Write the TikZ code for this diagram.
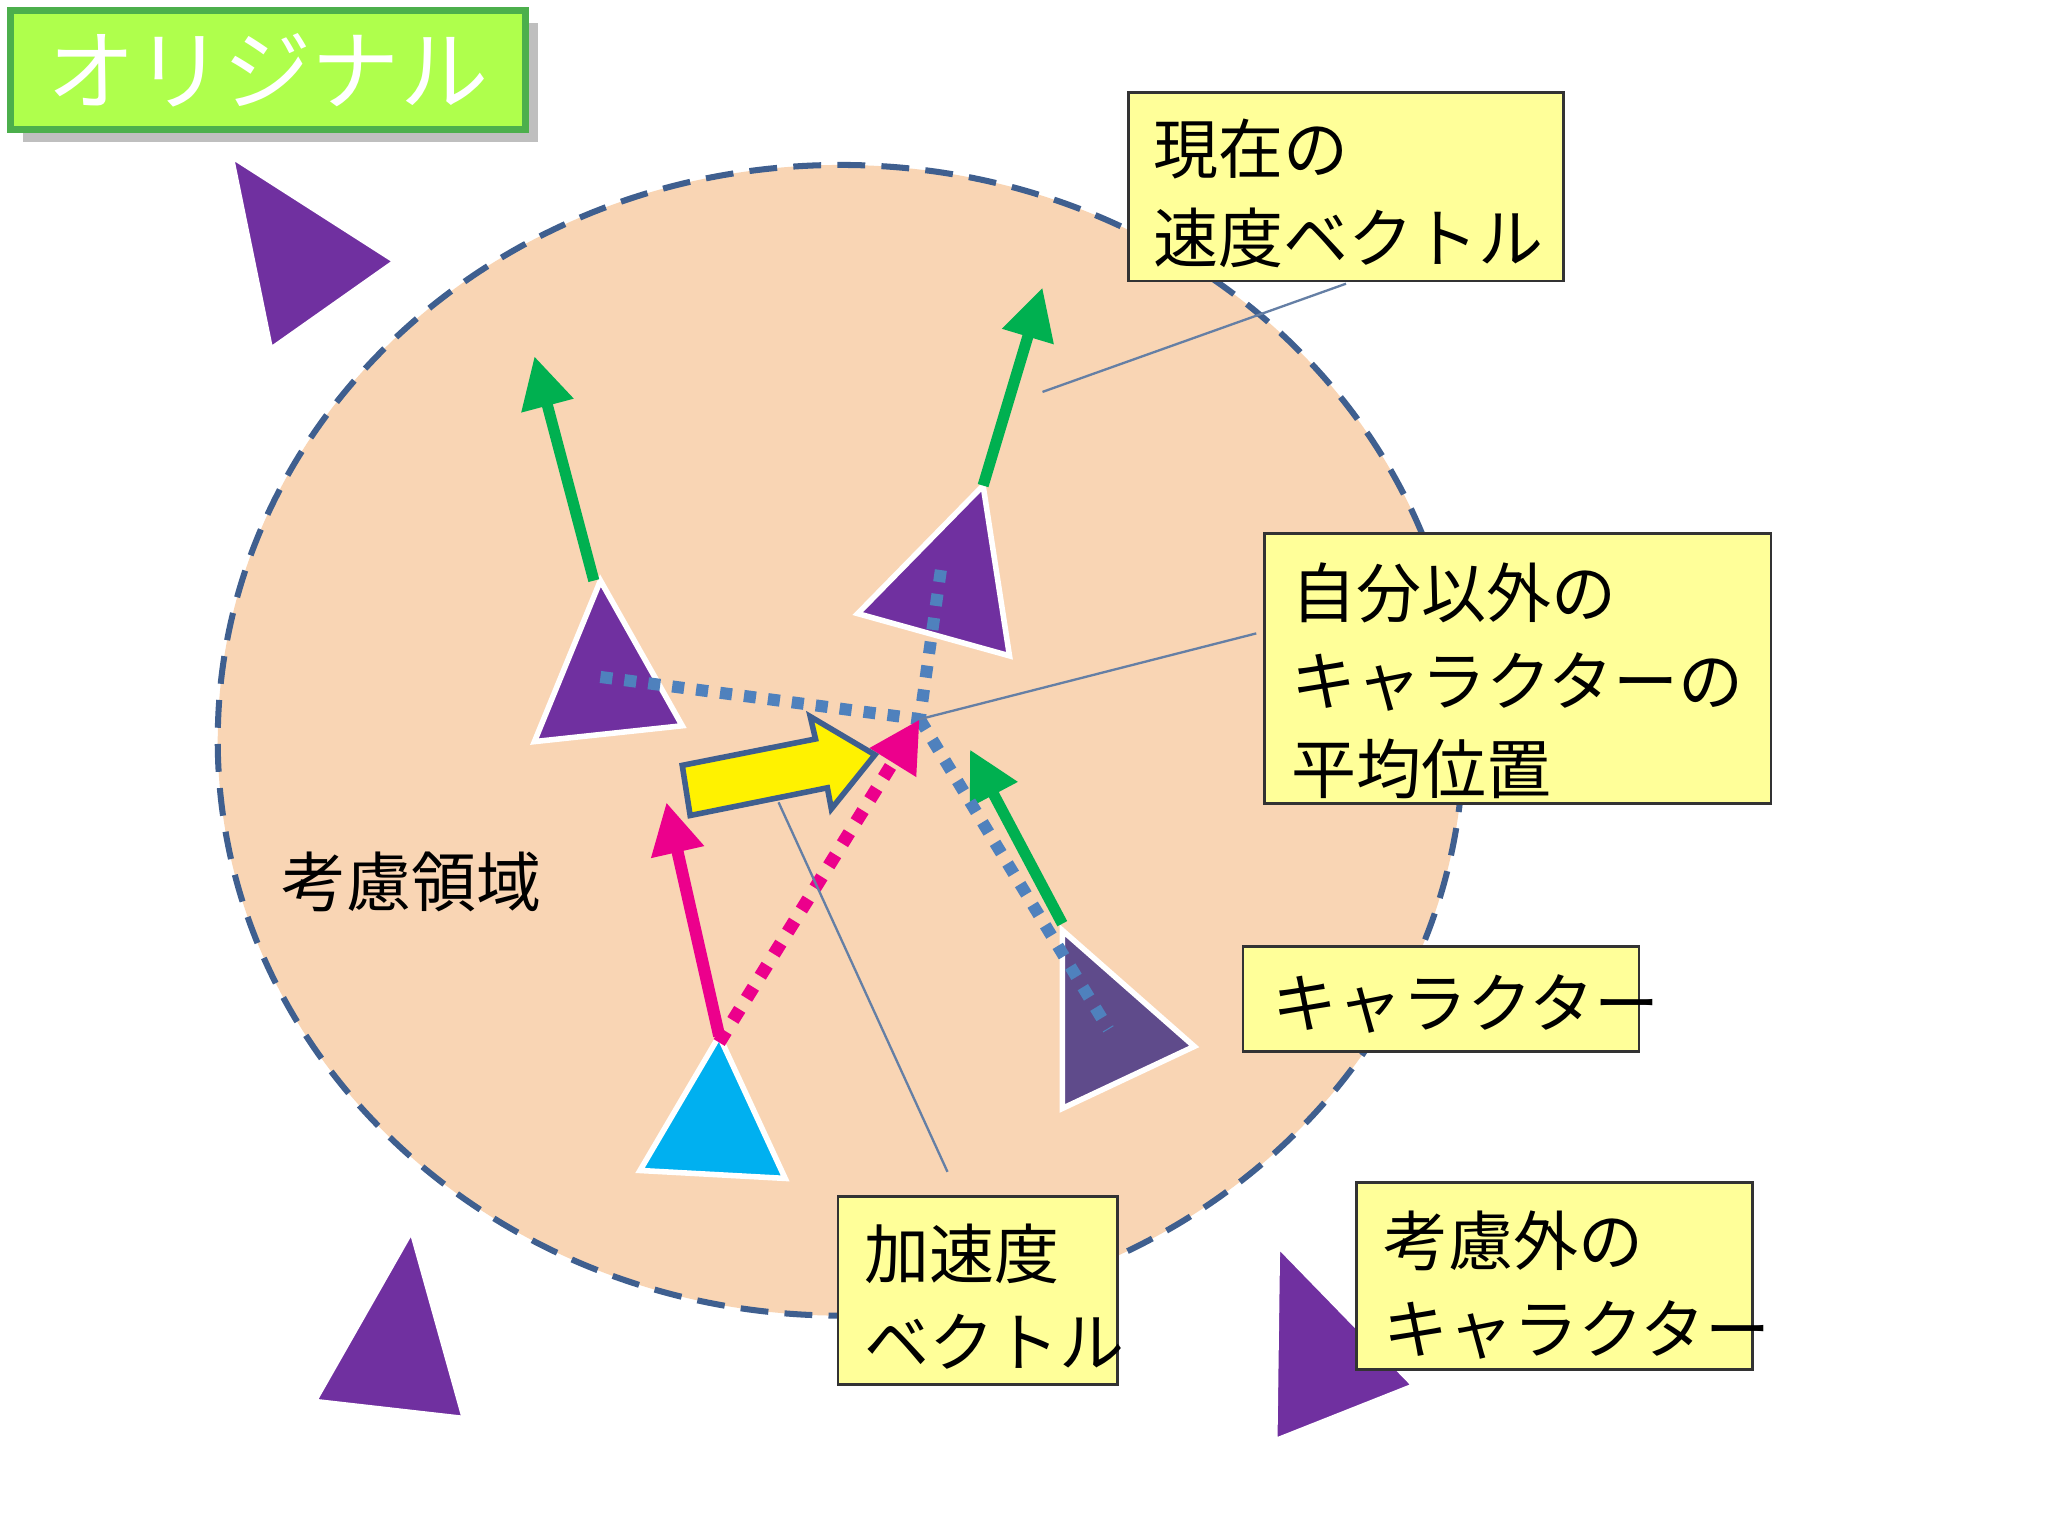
\documentclass[tikz,border=0pt]{standalone}
\usepackage{fontspec}
\setmainfont{Noto Sans CJK JP}
\usetikzlibrary{arrows.meta,shadows}
\definecolor{peach}{HTML}{F9D5B4}
\definecolor{purp}{HTML}{7030A0}
\definecolor{dpurp}{HTML}{5F4B8B}
\definecolor{cyanc}{HTML}{00B0F0}
\definecolor{grn}{HTML}{00B050}
\definecolor{bl}{HTML}{4F81BD}
\definecolor{edge}{HTML}{3F5F8F}
\definecolor{note}{HTML}{FFFF99}
\tikzset{
 tri/.style={fill=purp,draw=white,line width=1.2pt},
 garrow/.style={grn,line width=2.4pt,-{Triangle[length=11pt,width=11pt]}},
 dots/.style={bl,line width=2.6pt,dash pattern=on 2.6pt off 2.6pt},
 call/.style={edge!80,line width=0.5pt},
 box/.style={fill=note,draw=black!80,line width=0.6pt},
 lab/.style={anchor=north west,align=left,font=\fontsize{14}{19}\selectfont}
}
\begin{document}
\begin{tikzpicture}[x=0.01cm,y=-0.01cm]
\useasboundingbox (0,0) rectangle (1552,1164);
\fill[white] (0,0) rectangle (1552,1164);
% title
\node[draw=green!55!black!70,line width=1.5pt,fill=green!45!yellow!70,minimum width=3.9cm,minimum height=0.9cm,drop shadow,text=white,font=\fontsize{19}{22}\selectfont] (title) at (203,53) {オリジナル};
% region
\draw[fill=peach,draw=edge,line width=1.3pt,dash pattern=on 6pt off 3.5pt] (637,561) ellipse [x radius=472, y radius=436];
\node[font=\fontsize{14}{17}\selectfont] (region) at (312,668) {考慮領域};
% triangles
\draw[tri] (175,118)--(300,198)--(205,265)--cycle;
\draw[tri] (455,440)--(517,550)--(405,562)--cycle;
\draw[tri] (745,368)--(765,497)--(650,465)--cycle;
\draw[fill=dpurp,draw=white,line width=1.2pt] (805,705)--(905,793)--(805,840)--cycle;
\draw[fill=cyanc,draw=white,line width=1.2pt] (545,785)--(595,893)--(485,887)--cycle;
\draw[tri] (312,932)--(352,1075)--(238,1062)--cycle;
\draw[tri] (968,943)--(1072,1050)--(966,1092)--cycle;
% coordinates
\coordinate (avg) at (697,545);
\coordinate (c2) at (455,513);
\coordinate (c3) at (713,432);
\coordinate (c4) at (840,780);
\coordinate (c5) at (545,790);
% velocity arrows
\draw[garrow] (450,440) -- (405,270);
\draw[garrow] (745,368) -- (790,218);
\draw[garrow] (805,700) -- (735,568);
% dotted lines
\draw[dots] (c2) -- (avg);
\draw[dots] (c3) -- (avg);
\draw[dots] (avg) -- (c4);
% magenta
\draw[magenta,line width=2.6pt,-{Triangle[length=11pt,width=11pt]}] (545,785) -- (505,608);
\draw[magenta,line width=2.8pt,dash pattern=on 2.8pt off 2.8pt,-{Triangle[length=11pt,width=11pt]}] (c5) -- (avg);
% yellow block arrow
\draw[fill=yellow,draw=edge,line width=1.2pt] (517,580)--(618,560)--(614,543)--(663,572)--(630,613)--(627,597)--(523,618)--cycle;
% callout lines
\draw[call] (790,297) -- (1020,215);
\draw[call] (avg) -- (952,480);
\draw[call] (590,608) -- (718,888);
% boxes
\draw[box] (855,70) rectangle (1185,213);
\node[lab] (b1) at (862,78) {現在の\\速度ベクトル};
\draw[box] (958,404) rectangle (1342,609);
\node[lab] (b2) at (966,414) {自分以外の\\キャラクターの\\平均位置};
\draw[box] (942,717) rectangle (1242,797);
\node[lab] (b3) at (952,726) {キャラクター};
\draw[box] (635,907) rectangle (847,1049);
\node[lab] (b4) at (643,915) {加速度\\ベクトル};
\draw[box] (1028,896) rectangle (1328,1038);
\node[lab] (b5) at (1036,905) {考慮外の\\キャラクター};
\end{tikzpicture}
\end{document}
